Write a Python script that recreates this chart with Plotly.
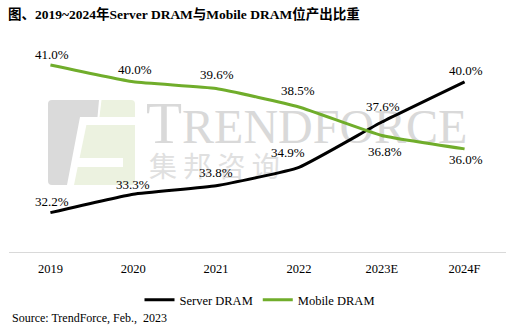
import plotly.graph_objects as go

years = ["2019", "2020", "2021", "2022", "2023E", "2024F"]
server_dram = [32.2, 33.3, 33.8, 34.9, 37.6, 40.0]
mobile_dram = [41.0, 40.0, 39.6, 38.5, 36.8, 36.0]

title_text = "图、2019~2024年Server DRAM与Mobile DRAM位产出比重"
source_text = "Source: TrendForce, Feb.,  2023"

# label offsets (style only)
server_shift = [(2, 11), (0, 10), (0, 13), (-11, 15), (1, 16), (1, 11)]
mobile_shift = [(2, 11), (2, 12), (1, 14), (-1, 16), (3, -16), (1, -11)]

BLACK = "#000000"
GREEN = "#70AD2B"
SERIF = "Liberation Serif"
TITLE_FONT = "Liberation Serif, Noto Sans CJK SC"

W, H = 513, 330
L, R, T, B = 9, 7, 34, 78
PX0, PX1 = L, W - R
PY0, PY1 = T, H - B

fig = go.Figure()

# watermark text on base (pixel) axes, drawn below the data overlay
fig.add_trace(go.Scatter(
    x=[146], y=[131], mode="text",
    text=["<span style='font-size:59px'>T</span>RENDFORCE"],
    textposition="middle right",
    textfont=dict(family="Liberation Serif", size=48, color="#d9d9d9"),
    hoverinfo="skip", showlegend=False, xaxis="x", yaxis="y"))
fig.add_trace(go.Scatter(
    x=[149], y=[170], mode="text",
    text=["集 邦 咨 询"],
    textposition="middle right",
    textfont=dict(family="Noto Sans CJK SC", size=28, color="#e0e0e0"),
    hoverinfo="skip", showlegend=False, xaxis="x", yaxis="y"))

fig.add_trace(go.Scatter(
    x=years, y=server_dram, name="Server DRAM", mode="lines",
    line=dict(color=BLACK, width=3, shape="spline", smoothing=0.4),
    xaxis="x2", yaxis="y2"))
fig.add_trace(go.Scatter(
    x=years, y=mobile_dram, name="Mobile DRAM", mode="lines",
    line=dict(color=GREEN, width=3, shape="spline", smoothing=0.4),
    xaxis="x2", yaxis="y2"))

annotations = []
for vals, shifts in [(server_dram, server_shift), (mobile_dram, mobile_shift)]:
    for i, (v, (dx, dy)) in enumerate(zip(vals, shifts)):
        annotations.append(dict(
            x=i, y=v, xref="x2", yref="y2", text=f"{v:.1f}%",
            showarrow=False, xshift=dx, yshift=dy,
            font=dict(family=SERIF, size=13, color="#000000"),
            xanchor="center", yanchor="middle"))

def px(X):
    return (X - PX0) / (PX1 - PX0)

def py(Y):
    return (PY1 - Y) / (PY1 - PY0)

annotations.append(dict(
    x=px(10), y=py(318), xref="paper", yref="paper", text=source_text,
    showarrow=False, xanchor="left", yanchor="middle",
    font=dict(family=SERIF, size=12, color="#000000")))

# logo shapes (watermark), in pixel coordinates of base axes
gray = "#dadada"
lgreen = "#ecf2e0"
shapes = [
    dict(type="path", xref="x", yref="y", layer="below", line=dict(width=0), fillcolor=gray,
         path="M 48,104 Q 48,100 52,100 L 99,100 L 97.5,117 L 80,117 L 67,185 L 52,185 Q 48,185 48,181 Z"),
    dict(type="path", xref="x", yref="y", layer="below", line=dict(width=0), fillcolor=lgreen,
         path="M 101.5,100 L 131,100 Q 135,100 135,104 L 135,117 L 99.5,117 Z"),
    dict(type="path", xref="x", yref="y", layer="below", line=dict(width=0), fillcolor=lgreen,
         path="M 86.4,125 L 135,125 L 135,158 L 79.6,158 Z"),
    dict(type="path", xref="x", yref="y", layer="below", line=dict(width=0), fillcolor=lgreen,
         path="M 123,158 L 135,158 L 135,167 L 123,167 Z"),
    dict(type="path", xref="x", yref="y", layer="below", line=dict(width=0), fillcolor=lgreen,
         path="M 77.7,167 L 135,167 L 135,181 Q 135,185 131,185 L 74,185 Z"),
]

fig.update_layout(
    width=W, height=H,
    margin=dict(l=L, r=R, t=T, b=B, pad=0),
    paper_bgcolor="white", plot_bgcolor="white",
    title=dict(text="<b>" + title_text + "</b>", x=8 / W, xanchor="left",
               y=1 - 14 / H, yanchor="middle", xref="container", yref="container",
               font=dict(family=TITLE_FONT, size=13.5, color="#000000")),
    xaxis=dict(range=[PX0, PX1], visible=False, fixedrange=True),
    yaxis=dict(range=[PY1, PY0], visible=False, fixedrange=True),
    xaxis2=dict(type="category", overlaying="x", anchor="y2", side="bottom",
                range=[-0.5, 5.5], showgrid=False, showline=True,
                linecolor="#d9d9d9", linewidth=1, zeroline=False,
                ticks="outside", ticklen=5, tickcolor="rgba(0,0,0,0)",
                tickfont=dict(family=SERIF, size=12.5, color="#000000")),
    yaxis2=dict(overlaying="y", range=[29.85, 42.85], visible=False, showgrid=False),
    legend=dict(orientation="h", x=px(260), y=py(300), xanchor="center", yanchor="middle",
                font=dict(family=SERIF, size=12.5, color="#000000"),
                bgcolor="rgba(0,0,0,0)", itemwidth=30, tracegroupgap=0),
    annotations=annotations,
    shapes=shapes,
    showlegend=True,
)

fig.write_html("out.html")
